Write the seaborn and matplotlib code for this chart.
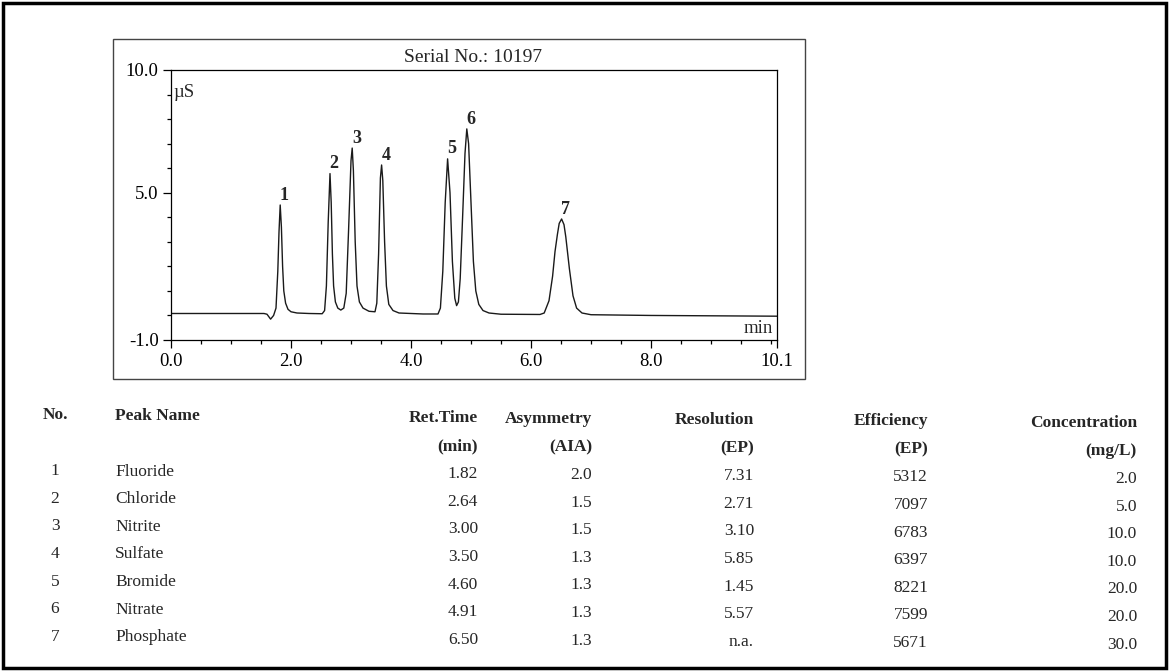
import matplotlib
matplotlib.use("Agg")
import matplotlib.pyplot as plt
import matplotlib.patches as mpatches
import seaborn as sns
import pandas as pd
import numpy as np


# ==========================================
# 数据：色谱图曲线 (min, µS)
# ==========================================
trace_time = [0.00, 1.55, 1.60, 1.66, 1.71, 1.75, 1.78, 1.80, 1.82, 1.84,
              1.86, 1.88, 1.91, 1.95, 2.00, 2.10, 2.30, 2.52, 2.56, 2.59,
              2.62, 2.65, 2.67, 2.69, 2.71, 2.74, 2.78, 2.83, 2.88, 2.92,
              2.96, 3.00, 3.02, 3.04, 3.07, 3.10, 3.14, 3.20, 3.30, 3.40,
              3.43, 3.46, 3.49, 3.51, 3.53, 3.56, 3.59, 3.63, 3.70, 3.80,
              4.20, 4.45, 4.49, 4.53, 4.57, 4.61, 4.65, 4.69, 4.73, 4.76,
              4.79, 4.82, 4.86, 4.90, 4.93, 4.96, 5.00, 5.04, 5.08, 5.13,
              5.20, 5.30, 5.50, 6.15, 6.22, 6.30, 6.36, 6.40, 6.44, 6.47,
              6.51, 6.55, 6.58, 6.64, 6.70, 6.76, 6.85, 7.00, 8.00, 10.10]
trace_signal = [0.08, 0.08, 0.05, -0.15, 0.00, 0.30, 1.80, 3.40, 4.50, 3.60,
                2.00, 1.00, 0.50, 0.25, 0.15, 0.10, 0.08, 0.07, 0.20, 1.20,
                3.80, 5.78, 4.60, 2.50, 1.20, 0.55, 0.30, 0.22, 0.30, 0.90,
                3.50, 6.30, 6.82, 5.90, 3.00, 1.20, 0.55, 0.30, 0.17, 0.15,
                0.50, 2.50, 5.60, 6.13, 5.50, 3.00, 1.20, 0.45, 0.20, 0.10,
                0.06, 0.06, 0.30, 1.80, 4.60, 6.38, 5.00, 2.20, 0.70, 0.40,
                0.55, 1.50, 4.00, 6.60, 7.60, 7.00, 4.60, 2.20, 1.00, 0.45,
                0.20, 0.10, 0.05, 0.04, 0.10, 0.60, 1.60, 2.60, 3.30, 3.75,
                3.93, 3.70, 3.20, 1.90, 0.80, 0.30, 0.10, 0.03, 0.00, -0.03]

# ==========================================
# 数据：峰表
# ==========================================
peak_no = [1, 2, 3, 4, 5, 6, 7]
peak_name = ["Fluoride", "Chloride", "Nitrite", "Sulfate", "Bromide", "Nitrate", "Phosphate"]
ret_time = ["1.82", "2.64", "3.00", "3.50", "4.60", "4.91", "6.50"]
asymmetry = ["2.0", "1.5", "1.5", "1.3", "1.3", "1.3", "1.3"]
resolution = ["7.31", "2.71", "3.10", "5.85", "1.45", "5.57", "n.a."]
efficiency = ["5312", "7097", "6783", "6397", "8221", "7599", "5671"]
concentration = ["2.0", "5.0", "10.0", "10.0", "20.0", "20.0", "30.0"]

x_tick_values = [0.0, 2.0, 4.0, 6.0, 8.0, 10.1]
x_tick_labels = ["0.0", "2.0", "4.0", "6.0", "8.0", "10.1"]
y_tick_values = [-1.0, 5.0, 10.0]
y_tick_labels = ["-1.0", "5.0", "10.0"]

W, H = 1170, 671


def fx(px):
    return px / W


def fy(py):
    return 1 - py / H


sns.set_theme(style="white")
plt.rcParams['font.family'] = ['Liberation Serif', 'DejaVu Serif']

fig = plt.figure(figsize=(W / 100, H / 100), dpi=100)
fig.patch.set_facecolor("white")

# 外框 + 图框
fig.add_artist(mpatches.Rectangle((fx(3), fy(668)), fx(1163), 665 / H, transform=fig.transFigure,
                                  fill=False, ec="black", lw=2.5))
fig.add_artist(mpatches.Rectangle((fx(113), fy(379)), fx(692), 340 / H, transform=fig.transFigure,
                                  fill=False, ec="#444444", lw=1.0))

ax = fig.add_axes([fx(171), fy(340), fx(606), 270 / H])
df_trace = pd.DataFrame({"time": trace_time, "signal": trace_signal})
sns.lineplot(data=df_trace, x="time", y="signal", ax=ax, color="#1a1a1a", lw=1.0,
             estimator=None, sort=False)

ax.set_xlim(0, 10.1)
ax.set_ylim(-1, 10)
ax.set_xlabel("")
ax.set_ylabel("")
ax.set_xticks(x_tick_values)
ax.set_xticklabels(x_tick_labels)
ax.set_xticks(np.arange(0, 10.01, 0.5), minor=True)
ax.set_yticks(y_tick_values)
ax.set_yticklabels(y_tick_labels)
ax.set_yticks(np.arange(-1, 10.01, 1.0), minor=True)
ax.tick_params(which="both", bottom=True, left=True, direction="out", color="black",
               labelsize=13.5, labelcolor="black", width=0.9)
ax.tick_params(which="major", length=6, pad=3)
ax.tick_params(which="minor", length=3)
for s in ax.spines.values():
    s.set_color("black")
    s.set_linewidth(0.9)

ax.text(0.004, 0.917, "µS", transform=ax.transAxes, ha="left", va="center", fontsize=13.5)
ax.text(0.993, 0.012, "min", transform=ax.transAxes, ha="right", va="bottom", fontsize=13.5)

# 峰编号
t_arr = np.array(trace_time)
s_arr = np.array(trace_signal)
for n, rt in zip(peak_no, ret_time):
    win = np.abs(t_arr - float(rt)) < 0.08
    i = np.argmax(np.where(win, s_arr, -np.inf))
    ax.annotate(str(n), xy=(t_arr[i], s_arr[i]), xytext=(3, 1), textcoords="offset points",
                ha="center", va="bottom", fontsize=13, fontweight="bold")

fig.text(fx(473), fy(57), "Serial No.: 10197", ha="center", va="center", fontsize=14)

# ==========================================
# 峰表
# ==========================================
cols = [
    ("No.", "", peak_no, 55, "center"),
    ("Peak Name", "", peak_name, 115, "left"),
    ("Ret.Time", "(min)", ret_time, 478, "right"),
    ("Asymmetry", "(AIA)", asymmetry, 592, "right"),
    ("Resolution", "(EP)", resolution, 754, "right"),
    ("Efficiency", "(EP)", efficiency, 928, "right"),
    ("Concentration", "(mg/L)", concentration, 1137, "right"),
]
head_y = 415
sub_y = 443
row_y = [471 + 27.6 * k for k in range(len(peak_no))]

for head, sub, values, x, ha in cols:
    skew = 8 * (x - 40) / 1100  # 扫描倾斜
    fig.text(fx(x), fy(head_y + skew), head, ha=ha, va="center", fontsize=12.5, fontweight="bold")
    if sub:
        fig.text(fx(x), fy(sub_y + skew), sub, ha=ha, va="center", fontsize=12.5, fontweight="bold")
    for v, y in zip(values, row_y):
        fig.text(fx(x), fy(y + skew), str(v), ha=ha, va="center", fontsize=12.5)

fig.savefig("out.png", dpi=100)
plt.close(fig)
